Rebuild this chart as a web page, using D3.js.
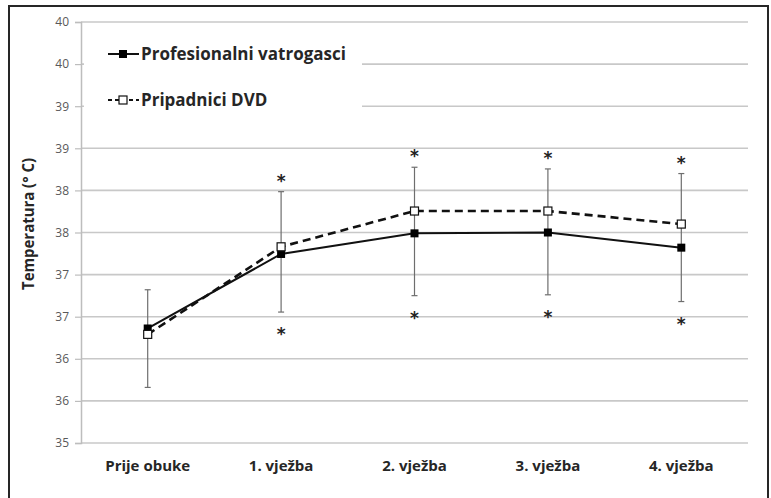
<!DOCTYPE html>
<html><head><meta charset="utf-8">
<script src="https://cdn.jsdelivr.net/npm/d3@7/dist/d3.min.js"></script>
<style>body{margin:0;background:#fff}svg{display:block}</style>
</head><body>
<svg id="c" width="771" height="498"></svg>
<script>
const categories = ["Prije obuke","1. vježba","2. vježba","3. vježba","4. vježba"];
const profMean = [36.36, 37.245, 37.49, 37.50, 37.32];
const profSD   = [0.70, 0.69, 0.74, 0.74, 0.64];
const dvdMean  = [36.29, 37.33, 37.755, 37.755, 37.60];
const dvdSD    = [0.53, 0.655, 0.52, 0.50, 0.60];
const significant = [false, true, true, true, true];
const yTickValues = [35,35.5,36,36.5,37,37.5,38,38.5,39,39.5,40];
const yTickLabels = ["35","36","36","37","37","38","38","39","39","40","40"];
const seriesNames = ["Profesionalni vatrogasci","Pripadnici DVD"];
const yTitle = "Temperatura (° C)";

const svg = d3.select("#c");
const font = "'Open Sans', Lato, sans-serif";
const L=81, R=748, T=22, B=443;
const x = d3.scaleBand().domain(categories).range([L,R]).padding(0);
const cx = c => x(c)+x.bandwidth()/2;
const y = d3.scaleLinear().domain([35,40]).range([B,T]);

// frame
svg.append("rect").attr("x",9).attr("y",6).attr("width",759).attr("height",500)
  .attr("fill","#fff").attr("stroke","#262626").attr("stroke-width",2);

// gridlines
svg.append("g").selectAll("line").data(yTickValues).join("line")
  .attr("x1",L).attr("x2",R).attr("y1",d=>y(d)).attr("y2",d=>y(d))
  .attr("stroke","#c8c8c8").attr("stroke-width",1.6);

// y axis
const yAxis = d3.axisLeft(y).tickValues(yTickValues).tickSize(6).tickPadding(6)
  .tickFormat((d,i)=>yTickLabels[i]);
const ga = svg.append("g").attr("transform",`translate(${L},0)`).call(yAxis);
ga.select(".domain").attr("stroke","#bdbdbd").attr("stroke-width",1.5);
ga.selectAll(".tick line").attr("stroke","#bdbdbd").attr("stroke-width",1.2);
ga.selectAll(".tick text").attr("fill","#595959").attr("font-family",font).attr("font-size",12);

// x labels
const xAxis = d3.axisBottom(x).tickSize(0).tickPadding(17);
const gx = svg.append("g").attr("transform",`translate(0,${B})`).call(xAxis);
gx.select(".domain").remove();
gx.selectAll(".tick text").attr("fill","#262626").attr("font-family",font)
  .attr("font-weight","bold").attr("font-size",15);

// y title
svg.append("text").attr("transform",`translate(28,224) rotate(-90)`)
  .attr("text-anchor","middle").attr("dy","0.35em").attr("font-family",font).attr("font-weight","bold")
  .attr("font-size",16).attr("textLength",132).attr("lengthAdjust","spacingAndGlyphs")
  .attr("fill","#262626").text(yTitle);

// legend box background (covers gridlines)
svg.append("rect").attr("x",84).attr("y",32).attr("width",278).attr("height",92).attr("fill","#fff");

// error bars
const eb = svg.append("g").attr("stroke","#6e6e6e").attr("stroke-width",1.2);
categories.forEach((c,i)=>{
  const top = dvdMean[i]+dvdSD[i], bot = profMean[i]-profSD[i];
  eb.append("line").attr("x1",cx(c)).attr("x2",cx(c)).attr("y1",y(top)).attr("y2",y(bot));
  eb.append("line").attr("x1",cx(c)-3).attr("x2",cx(c)+3).attr("y1",y(top)).attr("y2",y(top));
  eb.append("line").attr("x1",cx(c)-3).attr("x2",cx(c)+3).attr("y1",y(bot)).attr("y2",y(bot));
  if(significant[i]){
    svg.append("text").attr("x",cx(c)).attr("y",y(top)-15+10).attr("text-anchor","middle")
      .attr("font-family","DejaVu Sans").attr("font-weight","bold").attr("font-size",17).attr("fill","#222").text("*");
    svg.append("text").attr("x",cx(c)).attr("y",y(bot)+18+10).attr("text-anchor","middle")
      .attr("font-family","DejaVu Sans").attr("font-weight","bold").attr("font-size",17).attr("fill","#222").text("*");
  }
});

// lines
const line = d3.line().x((d,i)=>cx(categories[i])).y(d=>y(d));
svg.append("path").attr("d",line(dvdMean)).attr("fill","none").attr("stroke","#111")
  .attr("stroke-width",2.6).attr("stroke-dasharray","8,5");
svg.append("path").attr("d",line(profMean)).attr("fill","none").attr("stroke","#111")
  .attr("stroke-width",2);

// markers
svg.append("g").selectAll("rect").data(profMean).join("rect")
  .attr("x",(d,i)=>cx(categories[i])-4).attr("y",d=>y(d)-4).attr("width",8).attr("height",8)
  .attr("fill","#000");
svg.append("g").selectAll("rect").data(dvdMean).join("rect")
  .attr("x",(d,i)=>cx(categories[i])-4).attr("y",d=>y(d)-4).attr("width",8).attr("height",8)
  .attr("fill","#fff").attr("stroke","#111").attr("stroke-width",1.2);

// legend
const lg = svg.append("g");
const ly = [54, 100];
[0,1].forEach(k=>{
  lg.append("line").attr("x1",108).attr("x2",139).attr("y1",ly[k]).attr("y2",ly[k])
    .attr("stroke","#111").attr("stroke-width",k?2.2:2).attr("stroke-dasharray",k?"4,3":null);
  const m = lg.append("rect").attr("x",119).attr("y",ly[k]-4).attr("width",8).attr("height",8);
  if(k) m.attr("fill","#fff").attr("stroke","#111").attr("stroke-width",1.2); else m.attr("fill","#000");
  lg.append("text").attr("x",141).attr("y",ly[k]).attr("dy","0.36em").attr("font-family",font)
    .attr("font-weight","bold").attr("font-size",17).attr("fill","#262626").text(seriesNames[k]);
});
</script>
</body></html>
